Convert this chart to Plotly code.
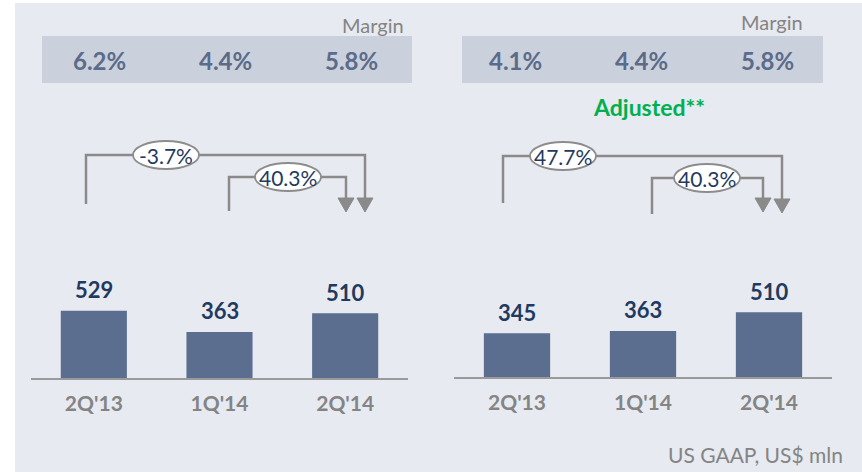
import plotly.graph_objects as go

# ---------------- data ----------------
categories = ["2Q'13", "1Q'14", "2Q'14"]
reported_values = [529, 363, 510]
adjusted_values = [345, 363, 510]
reported_margin = ["6.2%", "4.4%", "5.8%"]
adjusted_margin = ["4.1%", "4.4%", "5.8%"]
reported_growth = ["-3.7%", "40.3%"]   # YoY, QoQ
adjusted_growth = ["47.7%", "40.3%"]   # YoY, QoQ
margin_title = "Margin"
adjusted_title = "Adjusted**"
footnote = "US GAAP, US$ mln"

# ---------------- styling ----------------
W, H = 862, 472
FONT = "Lato"
BG_PANEL = "#e7eaf0"
BOX = "#cad0dc"
BAR = "#5b6e8f"
NAVY = "#1f3a60"
GRAY = "#848484"
LINE = "#8a8a8a"
MARGIN_TXT = "#5b6b8a"
GREEN = "#00b050"


def px(x):
    return x / W


def py(y):
    return 1 - y / H


fig = go.Figure()

fig.add_trace(go.Bar(x=categories, y=reported_values, marker_color=BAR,
                     marker_line_width=0, xaxis="x", yaxis="y",
                     hoverinfo="skip", showlegend=False))
fig.add_trace(go.Bar(x=categories, y=adjusted_values, marker_color=BAR,
                     marker_line_width=0, xaxis="x2", yaxis="y2",
                     hoverinfo="skip", showlegend=False))

YMAX = 600
SCALE = 0.127
base_l, base_r = 378, 377

xcommon = dict(type="category", showline=True, linecolor="#9a9a9a", linewidth=2,
               showgrid=False, zeroline=False, ticks="outside", ticklen=6,
               tickcolor="rgba(0,0,0,0)", fixedrange=True,
               tickfont=dict(family=FONT, size=21, color=GRAY, weight="bold"))
ycommon = dict(visible=False, showgrid=False, zeroline=False, range=[0, YMAX],
               fixedrange=True)

fig.update_layout(
    width=W, height=H,
    margin=dict(l=0, r=0, t=0, b=0),
    paper_bgcolor="white", plot_bgcolor="rgba(0,0,0,0)",
    bargap=0.474,
    xaxis=dict(domain=[px(31), px(408)], anchor="y", **xcommon),
    yaxis=dict(domain=[py(base_l), py(base_l - YMAX * SCALE)], anchor="x", **ycommon),
    xaxis2=dict(domain=[px(454), px(832)], anchor="y2", **xcommon),
    yaxis2=dict(domain=[py(base_r), py(base_r - YMAX * SCALE)], anchor="x2", **ycommon),
)

shapes = []
# panel background
shapes.append(dict(type="rect", xref="paper", yref="paper", x0=px(15), x1=px(862),
                   y0=py(472), y1=py(3), fillcolor=BG_PANEL, line_width=0, layer="below"))
# margin boxes
for x0, x1 in [(42, 412), (462, 823)]:
    shapes.append(dict(type="rect", xref="paper", yref="paper", x0=px(x0), x1=px(x1),
                       y0=py(83), y1=py(36), fillcolor=BOX, line_width=0, layer="below"))


def bracket(xl, ybot, ytop, xr, ybase):
    # left riser, horizontal, right drop
    return dict(type="path", xref="paper", yref="paper",
                path=f"M {px(xl)} {py(ybot)} L {px(xl)} {py(ytop)} L {px(xr)} {py(ytop)} L {px(xr)} {py(ybase)}",
                line=dict(color=LINE, width=2.5), fillcolor="rgba(0,0,0,0)")


def head(xc, ybase, ytip, half=8):
    return dict(type="path", xref="paper", yref="paper",
                path=f"M {px(xc - half)} {py(ybase)} L {px(xc + half)} {py(ybase)} L {px(xc)} {py(ytip)} Z",
                fillcolor=LINE, line=dict(color=LINE, width=1))


def ellipse(xc, yc, w=66, h=28):
    return dict(type="circle", xref="paper", yref="paper",
                x0=px(xc - w / 2), x1=px(xc + w / 2), y0=py(yc + h / 2), y1=py(yc - h / 2),
                fillcolor="white", line=dict(color="#8c8c8c", width=1.8))


# left panel arrows
shapes += [bracket(86, 204, 155, 365, 198), head(365, 198, 212),
           bracket(229, 211, 177, 346, 198), head(346, 198, 212)]
# right panel arrows
shapes += [bracket(503, 203, 156, 782, 199), head(782, 199, 213),
           bracket(652, 214, 178, 763, 198), head(763, 198, 212)]
# ellipses
ell = [(166, 155, reported_growth[0]), (288, 177, reported_growth[1]),
       (563, 156, adjusted_growth[0]), (707, 178, adjusted_growth[1])]
for xc, yc, _ in ell:
    shapes.append(ellipse(xc, yc))

fig.update_layout(shapes=shapes)

ann = []
# ellipse texts
for xc, yc, t in ell:
    ann.append(dict(x=px(xc), y=py(yc), xref="paper", yref="paper", text=t,
                    showarrow=False, xanchor="center", yanchor="middle",
                    font=dict(family=FONT, size=21, color=NAVY)))

# bar value labels
for xa, ya, vals in [("x", "y", reported_values), ("x2", "y2", adjusted_values)]:
    for c, v in zip(categories, vals):
        ann.append(dict(x=c, y=v, xref=xa, yref=ya, text=str(v), showarrow=False,
                        xanchor="center", yanchor="middle", yshift=21,
                        font=dict(family=FONT, size=22, color=NAVY, weight="bold")))

# margin values
for xa, vals, shift in [("x", reported_margin, 6), ("x2", adjusted_margin, -2)]:
    for c, t in zip(categories, vals):
        ann.append(dict(x=c, y=py(61), xref=xa, yref="paper", text=t, showarrow=False,
                        xanchor="center", yanchor="middle", xshift=shift,
                        font=dict(family=FONT, size=24, color=MARGIN_TXT, weight="bold")))

# "Margin" captions
for xr, yc in [(406, 25), (805, 22)]:
    ann.append(dict(x=px(xr), y=py(yc), xref="paper", yref="paper", text=margin_title,
                    showarrow=False, xanchor="right", yanchor="middle",
                    font=dict(family=FONT, size=20, color=GRAY)))

# Adjusted** title
ann.append(dict(x=px(649), y=py(107), xref="paper", yref="paper", text=adjusted_title,
                showarrow=False, xanchor="center", yanchor="middle",
                font=dict(family=FONT, size=23, color=GREEN, weight="bold")))

# footnote
ann.append(dict(x=px(845), y=py(454), xref="paper", yref="paper", text=footnote,
                showarrow=False, xanchor="right", yanchor="middle",
                font=dict(family=FONT, size=21, color=GRAY)))

fig.update_layout(annotations=ann)

fig.write_html("out.html", config={"displayModeBar": False},
               post_script="document.body.style.margin='0';document.body.style.overflow='hidden';")
